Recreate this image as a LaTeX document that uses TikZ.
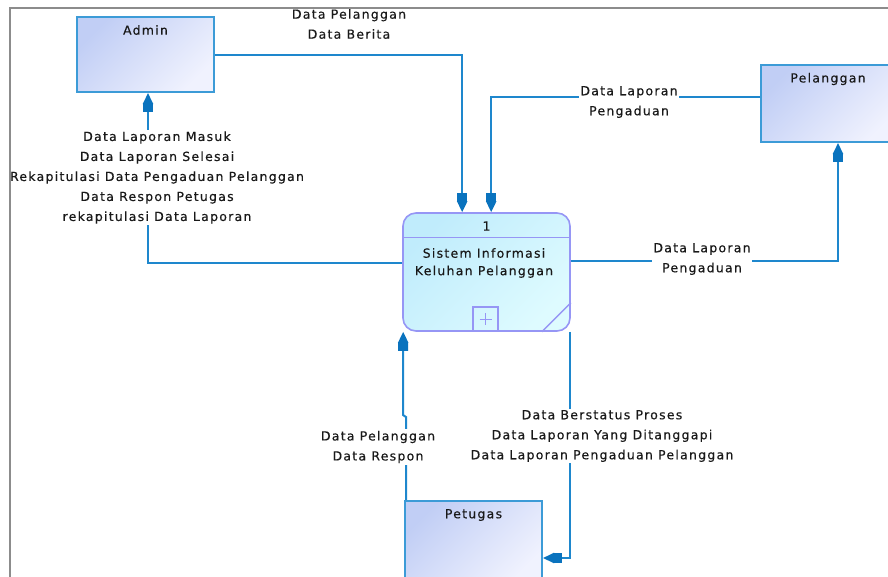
\documentclass[tikz,border=0pt]{standalone}
\usepackage{fontspec}
\setmainfont{DejaVu Sans}[LetterSpace=10,FakeBold=0.35]
\usetikzlibrary{arrows.meta,calc}
\definecolor{flowc}{RGB}{30,135,205}
\definecolor{tipc}{RGB}{10,115,190}
\definecolor{extb}{RGB}{60,155,215}
\definecolor{extf1}{RGB}{193,206,245}
\definecolor{extf2}{RGB}{240,242,254}
\definecolor{procb}{RGB}{150,150,245}
\definecolor{procf1}{RGB}{192,236,252}
\definecolor{procf2}{RGB}{222,251,255}
\definecolor{framec}{RGB}{140,140,140}
\definecolor{txtc}{RGB}{25,25,25}
\tikzset{
  ext/.style={draw=extb, line width=2pt, top color=extf1, bottom color=extf2, shading angle=45, minimum width=137pt, inner sep=0pt},
  proc/.style={draw=procb, line width=1.6pt, top color=procf1, bottom color=procf2, shading angle=45, rounded corners=13pt, minimum width=167pt, minimum height=118pt, inner sep=0pt},
  flow/.style={draw=flowc, line width=2pt, -{Rectangle[length=8pt,width=10pt,sep=0pt,color=tipc]Triangle[length=11pt,width=10pt,sep=0pt,color=tipc]}},
  lbl/.style={fill=white, align=center, inner sep=1.5pt, text=txtc, font=\fontsize{12.5}{20}\selectfont},
  ttl/.style={text=txtc, font=\fontsize{12.5}{20}\selectfont, inner sep=0pt}
}
\begin{document}
\begin{tikzpicture}[x=1pt,y=-1pt]
\useasboundingbox (0,0) rectangle (888,576);
\clip (0,0) rectangle (888,576);
% external entities
\node[ext, shading angle=45, minimum height=75pt] (admin) at (145.5,54.5) {};
\node[ttl] (admint) at (145.5,30) {Admin};
\node[ext, shading angle=45, minimum height=77pt] (pel) at (829.5,103.5) {};
\node[ttl] (pelt) at (828,79) {Pelanggan};
\node[ext, shading angle=45, minimum height=82pt] (pet) at (473.5,542) {};
\node[ttl] (pett) at (473.5,515) {Petugas};
% process
\node[proc, shading angle=45] (proc) at (486.5,272) {};
\draw[procb, line width=1.4pt] ($(proc.north west)+(0,25)$) -- ($(proc.north east)+(0,25)$);
\draw[procb, line width=1.4pt] ($(proc.south east)+(0,-29)$) -- ($(proc.south east)+(-29,0)$);
\node[draw=procb, line width=1.4pt, minimum width=25pt, minimum height=24pt, inner sep=0pt, anchor=south] (plus) at ($(proc.south)+(-1,0)$) {};
\draw[procb, line width=1.1pt] ($(plus.center)+(-6,0)$) -- ($(plus.center)+(6,0)$) ($(plus.center)+(0,-6)$) -- ($(plus.center)+(0,6)$);
\node[ttl] (pnum) at (486.5,226) {1};
\node[ttl, align=center, font=\fontsize{12.5}{17.5}\selectfont] (pname) at (484,263) {Sistem Informasi\\Keluhan Pelanggan};
% flows
\draw[flow] (admin.east) -| ([xshift=60pt]proc.north west);
\node[ttl, align=center] (l1) at (349,24) {Data Pelanggan\\Data Berita};
\draw[flow] ([yshift=6.5pt]pel.west) -| ([xshift=89pt]proc.north west);
\node[lbl] (l2) at (629,102) {Data Laporan\\Pengaduan};
\draw[flow] ([yshift=11pt]proc.east) -| ([xshift=8.5pt]pel.south);
\node[lbl] (l3) at (702,259) {Data Laporan\\Pengaduan};
\draw[flow] ([yshift=9pt]proc.west) -| ([xshift=2.5pt]admin.south);
\node[lbl] (l4) at (157,177.5) {Data Laporan Masuk\\Data Laporan Selesai\\Rekapitulasi Data Pengaduan Pelanggan\\Data Respon Petugas\\rekapitulasi Data Laporan};
\draw[flow] ([xshift=2pt]pet.north west) -- ++(0,-83) -- ++(-3,-2) -- ([xshift=1pt]proc.south west);
\node[lbl] (l5) at (378,447) {Data Pelanggan\\Data Respon};
\draw[flow] ([xshift=-1pt]proc.south east) |- ([yshift=-16pt]pet.east);
\node[lbl] (l6) at (602,436) {Data Berstatus Proses\\Data Laporan Yang Ditanggapi\\Data Laporan Pengaduan Pelanggan};
% frame
\draw[framec, line width=1.8pt] (10,577) -- (10,8) -- (890,8);
\end{tikzpicture}
\end{document}
